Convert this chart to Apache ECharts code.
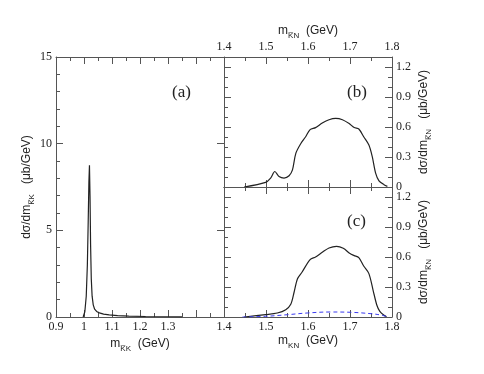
<!DOCTYPE html>
<html>
<head>
<meta charset="utf-8">
<title>dsigma/dm</title>
<script src="https://cdn.jsdelivr.net/npm/echarts@6/dist/echarts.min.js"></script>
<style>
  * { margin: 0; padding: 0; }
  #main { width: 484px; height: 374px; background: #fff; }
</style>
</head>
<body>
<div id="main"></div>
<script>
// (a) K-bar K invariant mass
var massKK = [0.997, 1.003, 1.008, 1.012, 1.015, 1.0175, 1.0195, 1.0215, 1.0235, 1.026, 1.029, 1.033, 1.038, 1.045, 1.055, 1.07, 1.09, 1.12, 1.16, 1.22, 1.3, 1.35];
var dsigKK = [0, 0.3, 1.2, 3.0, 5.5, 7.8, 8.76, 7.0, 4.2, 2.2, 1.2, 0.7, 0.45, 0.32, 0.24, 0.17, 0.12, 0.08, 0.05, 0.03, 0.015, 0.01];

// (b) K-bar N invariant mass
var massKNb = [1.448, 1.499, 1.511, 1.521, 1.531, 1.543, 1.555, 1.563, 1.571, 1.583, 1.594, 1.605, 1.618, 1.634, 1.650, 1.666, 1.682, 1.698, 1.710, 1.721, 1.733, 1.745, 1.753, 1.761, 1.769, 1.781, 1.789];
var dsigKNb = [0, 0.046, 0.089, 0.155, 0.105, 0.089, 0.112, 0.171, 0.336, 0.435, 0.5, 0.574, 0.594, 0.64, 0.673, 0.686, 0.673, 0.634, 0.594, 0.58, 0.5, 0.419, 0.303, 0.139, 0.062, 0.023, 0.006];

// (c) full result and the small dashed contribution
var massKNc = [1.448, 1.499, 1.527, 1.547, 1.559, 1.567, 1.575, 1.586, 1.605, 1.618, 1.634, 1.650, 1.668, 1.684, 1.700, 1.710, 1.721, 1.733, 1.745, 1.755, 1.764, 1.771, 1.781, 1.787];
var dsigKNc = [0, 0.024, 0.04, 0.073, 0.127, 0.25, 0.383, 0.45, 0.574, 0.6, 0.647, 0.69, 0.707, 0.687, 0.634, 0.614, 0.594, 0.507, 0.434, 0.267, 0.117, 0.057, 0.017, 0.003];
var massKNd = [1.444, 1.499, 1.551, 1.598, 1.654, 1.702, 1.75, 1.773, 1.789];
var dsigKNd = [0, 0.007, 0.023, 0.04, 0.05, 0.047, 0.033, 0.02, 0.003];

var AX = '#555';
var TXT = '#222';
var SERIF = 'Liberation Serif';
var SANS = 'Liberation Sans';

var chart = echarts.init(document.getElementById('main'));

function zip(xs, ys) {
    return xs.map(function (x, i) { return [x, ys[i]]; });
}

function ax(o) {
    return {
        type: 'value', gridIndex: o.g, position: o.pos,
        min: o.min, max: o.max, interval: o.iv,
        axisLine: { show: o.line !== false, onZero: false, lineStyle: { color: AX, width: 1 } },
        splitLine: { show: false },
        axisTick: { show: true, inside: true, length: o.tl || 7, lineStyle: { color: AX } },
        minorTick: { show: !!o.minor, splitNumber: o.minor || 2, length: 4, lineStyle: { color: AX } },
        axisLabel: {
            show: !!o.fmt, formatter: o.fmt, fontFamily: SERIF, fontSize: 12, color: TXT,
            margin: o.margin || 4, showMinLabel: true, showMaxLabel: true, hideOverlap: false
        },
        name: o.name || '', nameLocation: 'middle', nameGap: o.gap || 20,
        nameRotate: o.rot, nameTextStyle: o.nts
    };
}

function fmtKK(v) {
    return v > 1.35 ? '' : String(+v.toFixed(2));
}
function fmtKN(v) {
    return v.toFixed(1);
}
function fmtY(v) {
    var k = v / 0.3;
    if (Math.abs(k - Math.round(k)) > 1e-6) return '';
    return v < 1e-9 ? '0' : v.toFixed(1);
}

var richName = {
    n: { fontFamily: SANS, fontSize: 12, color: TXT, lineHeight: 16, verticalAlign: 'bottom' },
    s: { fontFamily: SANS, fontSize: 8, color: TXT, lineHeight: 16, verticalAlign: 'bottom', padding: [0, 0, -3, 0] }
};

var option = {
    animation: false,
    grid: [
        { left: 56, top: 57, width: 168, height: 260 },
        { left: 224, top: 57, width: 168, height: 130 },
        { left: 224, top: 187, width: 168, height: 130 }
    ],
    xAxis: [
        ax({ g: 0, pos: 'bottom', min: 0.9, max: 1.5, iv: 0.1, minor: 2, fmt: fmtKK,
             name: '{n|m}{s|K\u0305K}{n|  (GeV)}', gap: 14, nts: { rich: richName } }),
        ax({ g: 0, pos: 'top', min: 0.9, max: 1.5, iv: 0.1, minor: 2 }),
        ax({ g: 1, pos: 'top', min: 1.4, max: 1.8, iv: 0.1, minor: 2, fmt: fmtKN,
             name: '{n|m}{s|K\u0305N}{n|  (GeV)}', gap: 18, nts: { rich: richName } }),
        ax({ g: 1, pos: 'bottom', min: 1.4, max: 1.8, iv: 0.1, minor: 2 }),
        ax({ g: 2, pos: 'bottom', min: 1.4, max: 1.8, iv: 0.1, minor: 2, fmt: fmtKN,
             name: '{n|m}{s|KN}{n|  (GeV)}', gap: 14, nts: { rich: richName } }),
        ax({ g: 2, pos: 'top', min: 1.4, max: 1.8, iv: 0.1, minor: 2 })
    ],
    yAxis: [
        ax({ g: 0, pos: 'left', min: 0, max: 15, iv: 5, minor: 5, fmt: function (v) { return String(v); },
             name: '{n|d\u03c3/dm}{s|K\u0305K}{n|   (\u03bcb/GeV)}', gap: 18, rot: 90, nts: { rich: richName } }),
        ax({ g: 0, pos: 'right', min: 0, max: 15, iv: 5, line: false }),
        ax({ g: 1, pos: 'left', min: 0, max: 1.3, iv: 0.1, tl: 4 }),
        ax({ g: 1, pos: 'left', min: 0, max: 1.3, iv: 0.3, line: false }),
        ax({ g: 1, pos: 'right', min: 0, max: 1.3, iv: 0.1, tl: 4, fmt: fmtY,
             name: '{n|d\u03c3/dm}{s|K\u0305N}{n|   (\u03bcb/GeV)}', gap: 22, rot: 90, nts: { rich: richName } }),
        ax({ g: 1, pos: 'right', min: 0, max: 1.3, iv: 0.3, line: false }),
        ax({ g: 2, pos: 'left', min: 0, max: 1.3, iv: 0.1, tl: 4 }),
        ax({ g: 2, pos: 'left', min: 0, max: 1.3, iv: 0.3, line: false }),
        ax({ g: 2, pos: 'right', min: 0, max: 1.3, iv: 0.1, tl: 4, fmt: fmtY,
             name: '{n|d\u03c3/dm}{s|K\u0305N}{n|   (\u03bcb/GeV)}', gap: 22, rot: 90, nts: { rich: richName } }),
        ax({ g: 2, pos: 'right', min: 0, max: 1.3, iv: 0.3, line: false })
    ],
    graphic: [
        { type: 'text', left: 172, top: 84, style: { text: '(a)', font: '17px "Liberation Serif"', fill: TXT } },
        { type: 'text', left: 347, top: 84, style: { text: '(b)', font: '17px "Liberation Serif"', fill: TXT } },
        { type: 'text', left: 347, top: 213, style: { text: '(c)', font: '17px "Liberation Serif"', fill: TXT } }
    ],
    series: [
        { type: 'line', xAxisIndex: 0, yAxisIndex: 0, data: zip(massKK, dsigKK), showSymbol: false,
          lineStyle: { color: '#222', width: 1.2 } },
        { type: 'line', xAxisIndex: 2, yAxisIndex: 4, data: zip(massKNb, dsigKNb), showSymbol: false, smooth: 0.3,
          lineStyle: { color: '#222', width: 1.2 } },
        { type: 'line', xAxisIndex: 4, yAxisIndex: 8, data: zip(massKNc, dsigKNc), showSymbol: false, smooth: 0.3,
          lineStyle: { color: '#222', width: 1.2 } },
        { type: 'line', xAxisIndex: 4, yAxisIndex: 8, data: zip(massKNd, dsigKNd), showSymbol: false, smooth: 0.4,
          lineStyle: { color: '#3a3af0', width: 1, type: [4, 3] } }
    ]
};
chart.setOption(option);
</script>
</body>
</html>
